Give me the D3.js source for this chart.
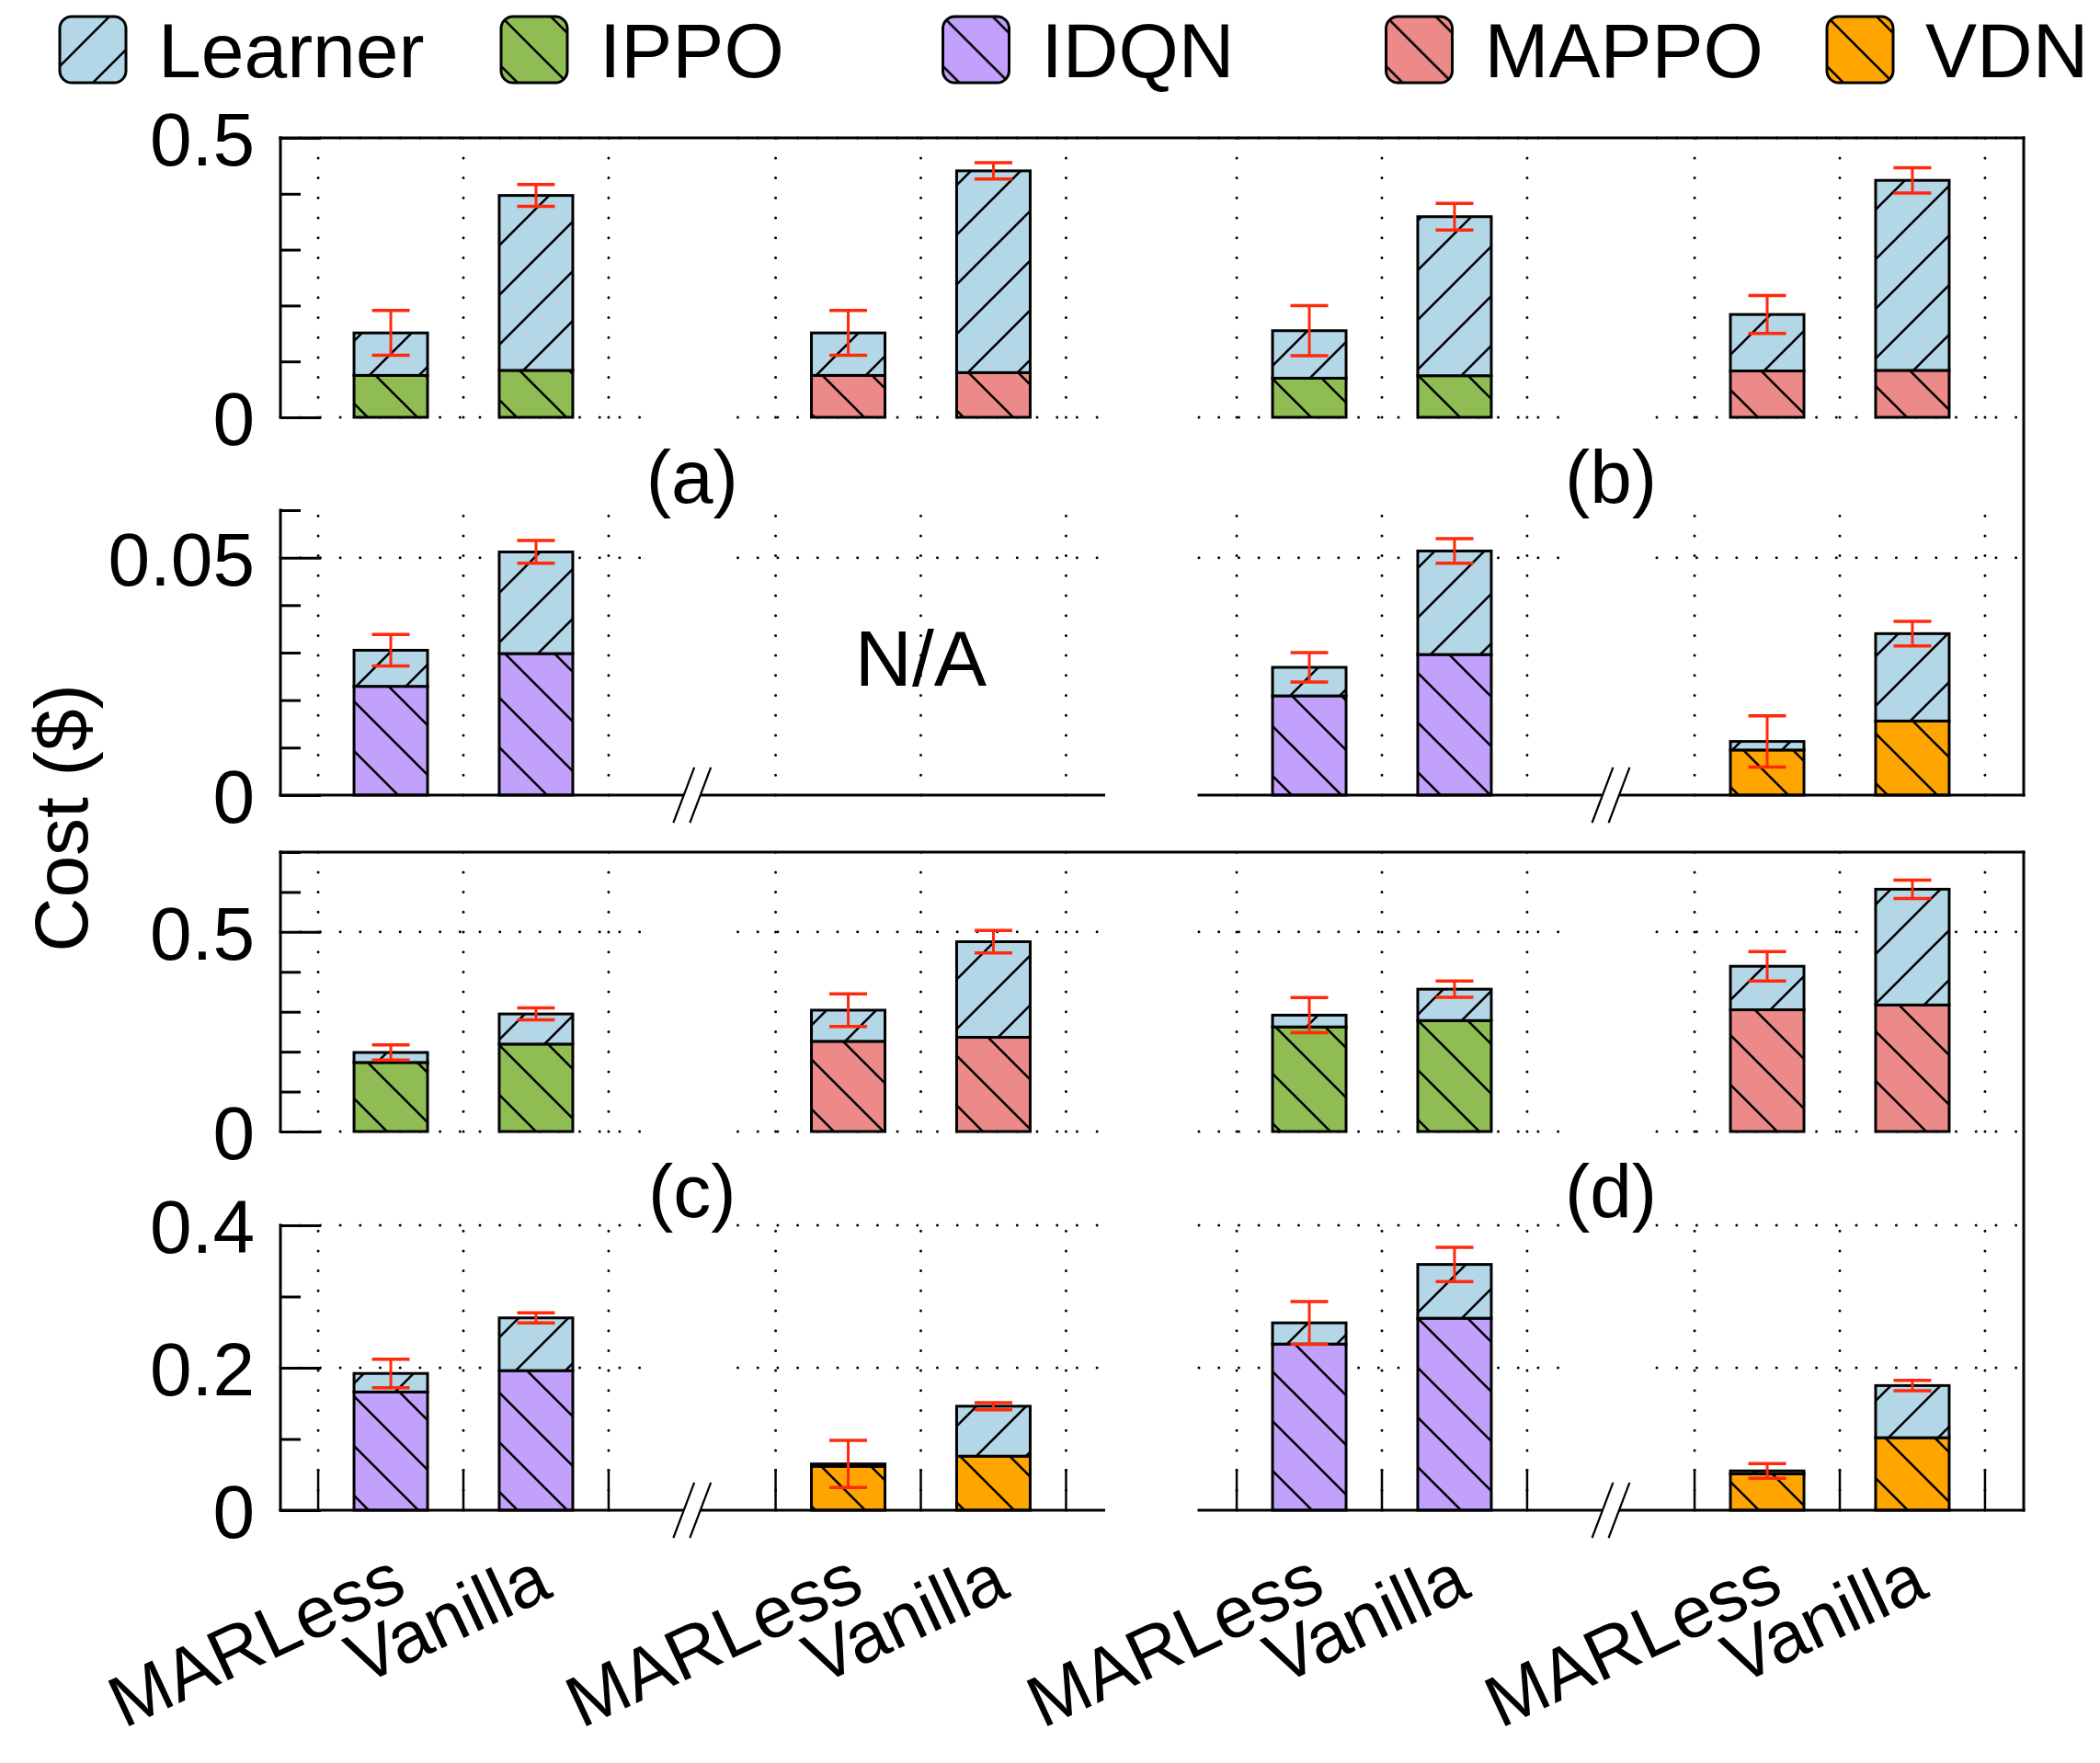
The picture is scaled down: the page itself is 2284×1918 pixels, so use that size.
<!DOCTYPE html>
<html>
<head>
<meta charset="utf-8">
<script src="https://cdn.jsdelivr.net/npm/d3@7"></script>
<style>
  body { margin: 0; background: #fff; }
  svg { display: block; }
  text { font-family: "Liberation Sans", Arial, Helvetica, sans-serif; fill: #000; }
</style>
</head>
<body>
<svg id="chart" width="2284" height="1918"></svg>
<script>
// ---- data -------------------------------------------------------------
const methods = ["MARLess", "Vanilla"];
const seriesNames = ["Learner", "IPPO", "IDQN", "MAPPO", "VDN"];
const seriesColors = ["#b4d7e8", "#8fbc53", "#c1a1fb", "#ec8989", "#ffa500"];
const algoOrder = ["IPPO", "MAPPO", "IDQN", "VDN"];
const panelLabels = ["(a)", "(b)", "(c)", "(d)"];

// cost ($) per algorithm [MARLess, Vanilla], order IPPO, MAPPO, IDQN, VDN
const agentCostA   = [[0.075, 0.084], [0.075, 0.080], [0.0229, 0.0298], null];
const learnerCostA = [[0.076, 0.313], [0.076, 0.361], [0.0076, 0.0214], null];
const errorA       = [[0.040, 0.0195], [0.040, 0.0145], [0.0033, 0.0024], null];

const agentCostB   = [[0.070, 0.0745], [0.083, 0.084], [0.0209, 0.0296], [0.0095, 0.0156]];
const learnerCostB = [[0.085, 0.2845], [0.101, 0.340], [0.0060, 0.0218], [0.0018, 0.0184]];
const errorB       = [[0.045, 0.024], [0.034, 0.0225], [0.0031, 0.0026], [0.0054, 0.0026]];

const agentCostC   = [[0.173, 0.219], [0.226, 0.236], [0.166, 0.196], [0.0617, 0.0759]];
const learnerCostC = [[0.025, 0.0755], [0.078, 0.2395], [0.026, 0.074], [0.0033, 0.0701]];
const errorC       = [[0.019, 0.015], [0.041, 0.028], [0.020, 0.007], [0.033, 0.005]];

const agentCostD   = [[0.262, 0.278], [0.305, 0.317], [0.2333, 0.2695], [0.051, 0.1018]];
const learnerCostD = [[0.0295, 0.0786], [0.109, 0.290], [0.0297, 0.0755], [0.0042, 0.0732]];
const errorD       = [[0.044, 0.0205], [0.037, 0.023], [0.030, 0.024], [0.0103, 0.0073]];

// y axes, one per row of panels
const yMaxRows = [0.5, 0.06, 0.7, 0.4];
const yMajorTicks = [[0, 0.5], [0, 0.05], [0, 0.5], [0, 0.2, 0.4]];
const yMajorLabels = [["0", "0.5"], ["0", "0.05"], ["0", "0.5"], ["0", "0.2", "0.4"]];
const yMinorStep = [0.1, 0.01, 0.1, 0.1];
const yAxisTitle = "Cost ($)";
const naLabel = "N/A";

// ---- layout -----------------------------------------------------------
const rowTop = [150, 555, 927, 1333];
const rowBottom = [454, 865, 1231, 1643];
const panelLeft = [305, 802.5, 1304, 1802];
const panelW = 398;
const rightEdge = 2201;
const barW = 80;
const fontSize = 82;
const dotDash = "0,21.7";

const svg = d3.select("#chart");
const defs = svg.append("defs");

// hatch fills: "/" for Learner, "\" for the agent algorithms
const P = 54;
function hatch(id, color, forward) {
  const p = defs.append("pattern").attr("id", id)
    .attr("patternUnits", "userSpaceOnUse").attr("width", P).attr("height", P);
  p.append("rect").attr("width", P).attr("height", P).attr("fill", color);
  const d = forward
    ? `M0,${P} L${P},0 M-8,8 L8,-8 M${P - 8},${P + 8} L${P + 8},${P - 8}`
    : `M0,0 L${P},${P} M-8,${P - 8} L8,${P + 8} M${P - 8},-8 L${P + 8},8`;
  p.append("path").attr("d", d).attr("stroke", "#000").attr("stroke-width", 2.6).attr("fill", "none");
}
seriesNames.forEach((n, i) => hatch("hatch-" + n, seriesColors[i], i === 0));

// ---- legend -----------------------------------------------------------
const legendX = [65, 545, 1025.5, 1507.5, 1987];
const legend = svg.append("g");
seriesNames.forEach((n, i) => {
  const g = legend.append("g").attr("transform", `translate(${legendX[i]},18)`);
  g.append("rect").attr("width", 72).attr("height", 72).attr("rx", 13)
    .attr("fill", `url(#hatch-${n})`).attr("stroke", "#000").attr("stroke-width", 3);
  g.append("text").attr("x", 107).attr("y", 66).attr("font-size", 84).text(n);
});

// ---- panels -----------------------------------------------------------
const subplotData = [
  [agentCostA, learnerCostA, errorA],
  [agentCostB, learnerCostB, errorB],
  [agentCostC, learnerCostC, errorC],
  [agentCostD, learnerCostD, errorD]
];

const yScales = yMaxRows.map((m, r) => d3.scaleLinear().domain([0, m]).range([rowBottom[r], rowTop[r]]));
const xScales = panelLeft.map(l => d3.scaleLinear().domain([-0.76, 1.76]).range([l, l + panelW]));

const gridLayer = svg.append("g");
const barLayer = svg.append("g");
const axisLayer = svg.append("g");
const errLayer = svg.append("g");

function dotted(g, x1, y1, x2, y2) {
  g.append("line").attr("x1", x1).attr("y1", y1).attr("x2", x2).attr("y2", y2)
    .attr("stroke", "#000").attr("stroke-width", 3).attr("stroke-linecap", "round")
    .attr("stroke-dasharray", dotDash);
}

for (let r = 0; r < 4; r++) {
  const y = yScales[r];
  const top = r % 2 === 0;
  for (let p = 0; p < 4; p++) {
    const x = xScales[p];
    // dotted grid
    [-0.5, 0.5, 1.5].forEach(v => dotted(gridLayer, x(v), rowBottom[r], x(v), rowTop[r]));
    yMajorTicks[r].forEach(v => {
      if (top || v > 0) dotted(gridLayer, x.range()[0], y(v), x.range()[1], y(v));
    });
    if (r === 3) {
      [-0.5, 0.5, 1.5].forEach(v => axisLayer.append("line")
        .attr("x1", x(v)).attr("x2", x(v)).attr("y1", rowBottom[r]).attr("y2", rowBottom[r] - 45)
        .attr("stroke", "#000").attr("stroke-width", 2.5));
    }
  }
}

// bars
for (let s = 0; s < 4; s++) {
  const [agent, learner, err] = subplotData[s];
  const col = s % 2;
  const rowBase = s < 2 ? 0 : 2;
  for (let a = 0; a < 4; a++) {
    const r = rowBase + (a < 2 ? 0 : 1);
    const p = col * 2 + (a % 2);
    const x = xScales[p], y = yScales[r];
    if (!agent[a]) {
      barLayer.append("text").attr("x", x(0.5)).attr("y", 746).attr("text-anchor", "middle")
        .attr("font-size", 86).text(naLabel);
      continue;
    }
    methods.forEach((m, i) => {
      const base = agent[a][i], lrn = learner[a][i], total = base + lrn;
      const cx = x(i);
      barLayer.append("rect").attr("x", cx - barW / 2).attr("width", barW)
        .attr("y", y(base)).attr("height", y(0) - y(base))
        .attr("fill", `url(#hatch-${algoOrder[a]})`).attr("stroke", "#000").attr("stroke-width", 3);
      barLayer.append("rect").attr("x", cx - barW / 2).attr("width", barW)
        .attr("y", y(total)).attr("height", y(base) - y(total))
        .attr("fill", "url(#hatch-Learner)").attr("stroke", "#000").attr("stroke-width", 3);
      const e = err[a][i];
      const eg = errLayer.append("g").attr("stroke", "#ff2a0c").attr("stroke-width", 3);
      eg.append("line").attr("x1", cx).attr("x2", cx).attr("y1", y(total + e)).attr("y2", y(total - e));
      eg.append("line").attr("x1", cx - 20.5).attr("x2", cx + 20.5).attr("y1", y(total + e)).attr("y2", y(total + e)).attr("stroke-width", 3.5);
      eg.append("line").attr("x1", cx - 20.5).attr("x2", cx + 20.5).attr("y1", y(total - e)).attr("y2", y(total - e)).attr("stroke-width", 3.5);
    });
  }
}

// axes and borders
function solid(x1, y1, x2, y2, w) {
  axisLayer.append("line").attr("x1", x1).attr("y1", y1).attr("x2", x2).attr("y2", y2)
    .attr("stroke", "#000").attr("stroke-width", w || 3).attr("stroke-linecap", "square");
}
for (let r = 0; r < 4; r++) {
  const y = yScales[r];
  const major = d3.axisLeft(y).tickValues(yMajorTicks[r]).tickSize(-44).tickPadding(28)
    .tickFormat((d, i) => yMajorLabels[r][i]);
  const minorVals = d3.range(0, yMaxRows[r] + 1e-9, yMinorStep[r])
    .filter(v => !yMajorTicks[r].some(t => Math.abs(t - v) < 1e-9));
  const minor = d3.axisLeft(y).tickValues(minorVals).tickSize(-22).tickFormat("");
  const ga = axisLayer.append("g").attr("transform", `translate(${panelLeft[0]},0)`).call(major);
  const gm = axisLayer.append("g").attr("transform", `translate(${panelLeft[0]},0)`).call(minor);
  [ga, gm].forEach(g => { g.select(".domain").remove(); g.selectAll("line").attr("stroke-width", 3); });
  ga.selectAll("text").attr("font-size", fontSize).attr("font-family", "Liberation Sans, Arial, sans-serif").attr("dy", "0.36em");
  solid(panelLeft[0], rowTop[r], panelLeft[0], rowBottom[r]);
  if (r % 2 === 0) {
    solid(panelLeft[0], rowTop[r], rightEdge, rowTop[r]);
    solid(rightEdge, rowTop[r], rightEdge, rowBottom[r + 1]);
  } else {
    solid(panelLeft[0], rowBottom[r], panelLeft[1] + panelW, rowBottom[r]);
    solid(panelLeft[2], rowBottom[r], rightEdge, rowBottom[r]);
    // broken-axis marks between the two groups
    [0, 2].forEach(p => {
      const cx = (panelLeft[p] + panelW + panelLeft[p + 1]) / 2, cy = rowBottom[r];
      axisLayer.append("path")
        .attr("d", `M${cx - 20},${cy + 29} L${cx + 2},${cy - 29} L${cx + 20},${cy - 29} L${cx - 2},${cy + 29} Z`)
        .attr("fill", "#fff");
      [-9, 9].forEach(o => solid(cx + o - 11, cy + 29, cx + o + 11, cy - 29, 2.2));
    });
  }
}

// panel captions
panelLabels.forEach((t, s) => {
  const col = s % 2, r = s < 2 ? 0 : 2;
  const cx = (panelLeft[col * 2] + panelW + panelLeft[col * 2 + 1]) / 2;
  axisLayer.append("text").attr("x", cx).attr("y", rowBottom[r] + 93)
    .attr("text-anchor", "middle").attr("font-size", fontSize).text(t);
});

// method labels under the bottom row, rotated
for (let p = 0; p < 4; p++) {
  methods.forEach((m, i) => {
    const tx = xScales[p](i) + 20, ty = 1736;
    axisLayer.append("text").attr("transform", `translate(${tx},${ty}) rotate(-25)`)
      .attr("text-anchor", "end").attr("font-size", 79).text(m);
  });
}

// y axis title
axisLayer.append("text").attr("transform", `translate(95,890) rotate(-90)`)
  .attr("text-anchor", "middle").attr("font-size", fontSize).text(yAxisTitle);
</script>
</body>
</html>
